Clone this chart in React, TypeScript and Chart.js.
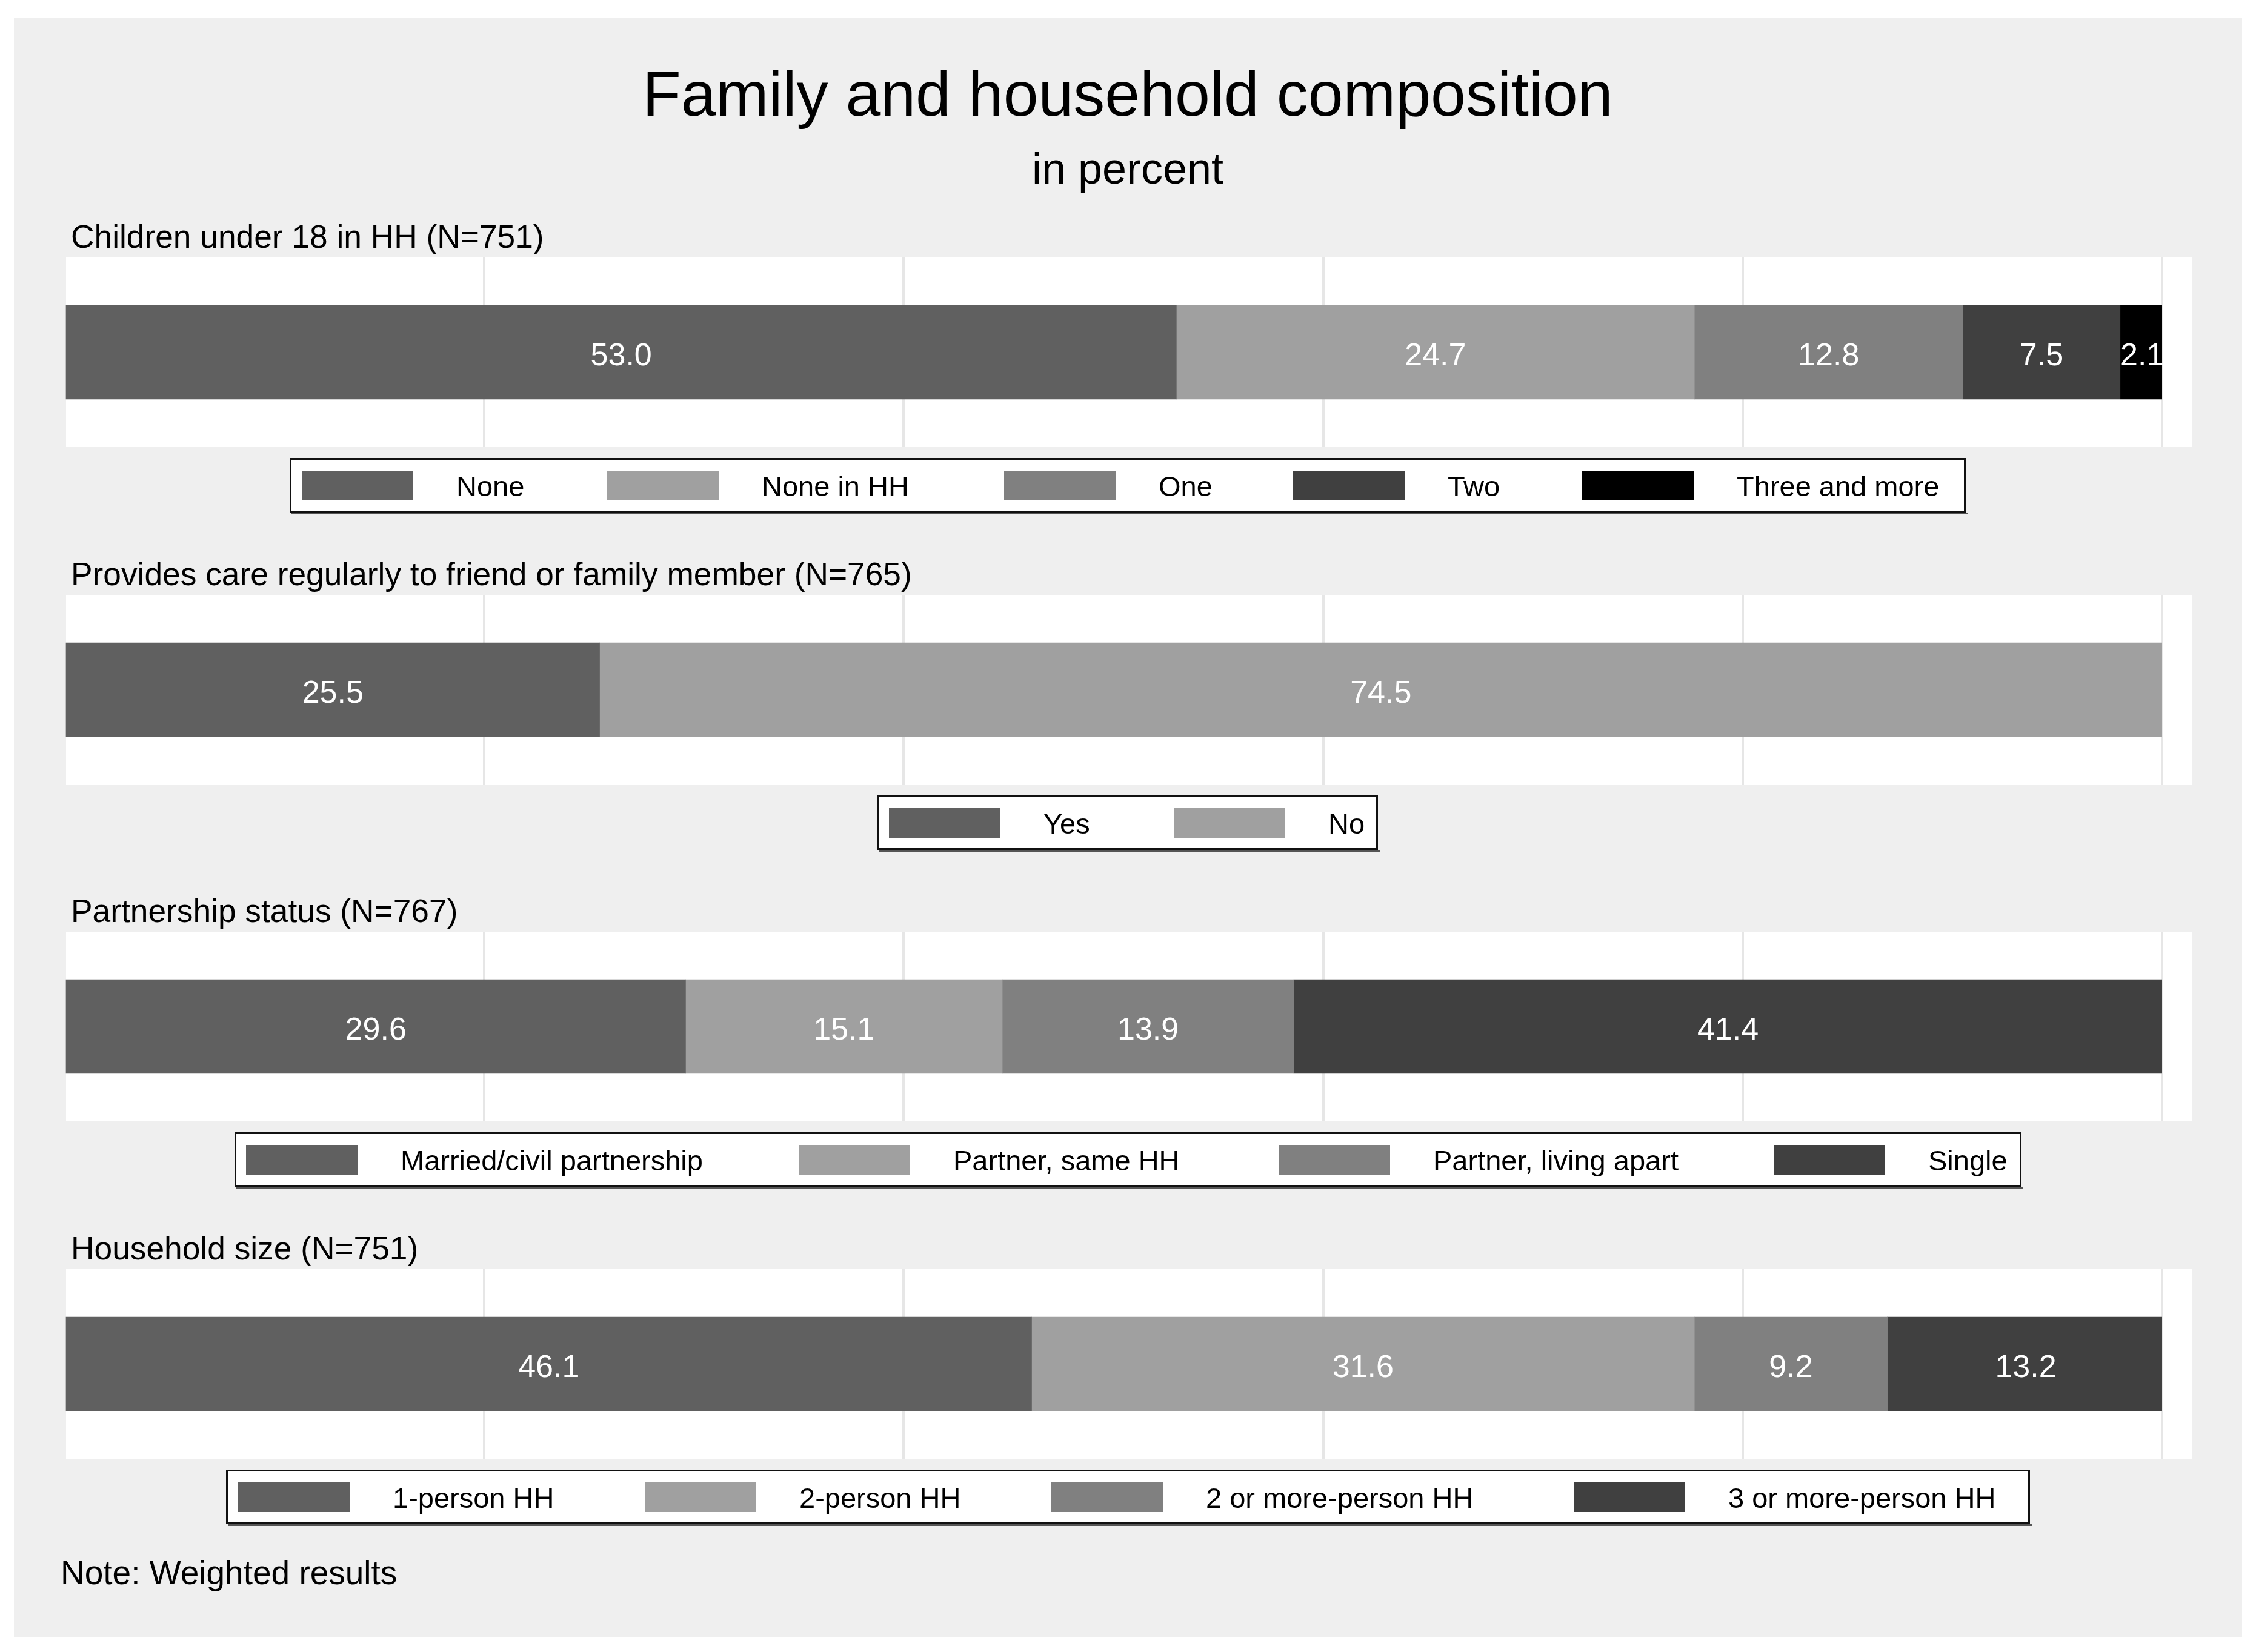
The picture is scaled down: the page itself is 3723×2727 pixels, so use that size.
import React, { useEffect, useRef } from 'react';
import { Chart, registerables } from 'chart.js';

Chart.register(...registerables);

// ---------- data ----------
const chartTitle = 'Family and household composition';
const chartSubtitle = 'in percent';
const noteText = 'Note: Weighted results';

const childrenTitle = 'Children under 18 in HH (N=751)';
const childrenCategories = ['None', 'None in HH', 'One', 'Two', 'Three and more'];
const childrenValues = [53.0, 24.7, 12.8, 7.5, 2.1];

const careTitle = 'Provides care regularly to friend or family member (N=765)';
const careCategories = ['Yes', 'No'];
const careValues = [25.5, 74.5];

const partnerTitle = 'Partnership status (N=767)';
const partnerCategories = ['Married/civil partnership', 'Partner, same HH', 'Partner, living apart', 'Single'];
const partnerValues = [29.6, 15.1, 13.9, 41.4];

const hhTitle = 'Household size (N=751)';
const hhCategories = ['1-person HH', '2-person HH', '2 or more-person HH', '3 or more-person HH'];
const hhValues = [46.1, 31.6, 9.2, 13.2];

const xTickValues = [0, 20, 40, 60, 80, 100];

// ---------- styles / layout ----------
const FONT = "'Liberation Sans', Arial, Helvetica, sans-serif";
const SHADES = ['#606060', '#a0a0a0', '#808080', '#404040', '#000000'];
const BG_GRAY = '#efefef';
const GRID_COLOR = '#e6e6e6';

const W = 3723;
const H = 2727;
const PANEL_STEP = 556.67;
const CANVAS_TOP0 = 330;
const CANVAS_H = 530;
const PLOT_LEFT = 107;
const PLOT_RIGHT = 3568;
const PLOT_TOP = 95;
const PLOT_BOTTOM = 408;
const WHITE_EXTRA_RIGHT = 49;
const BAR_THICK = 155;
const TITLE_X = 117;
const TITLE_BASELINE = 79;
const TITLE_SIZE = 53.3;
const LABEL_SIZE = 52;
const LEGEND_SIZE = 47;
const LEGEND_TOP = 426;
const LEGEND_H = 90;
const SWATCH_W = 184;
const SWATCH_H = 49;
const SWATCH_TOP = 447;
const LEGEND_LABEL_OFFSET = 255;
const LEGEND_BASELINE = 489;

const panels = [
  { title: childrenTitle, categories: childrenCategories, values: childrenValues,
    legend: { left: 478, right: 3244, keys: [498, 1002, 1657, 2134, 2611] } },
  { title: careTitle, categories: careCategories, values: careValues,
    legend: { left: 1448, right: 2274, keys: [1467, 1937] } },
  { title: partnerTitle, categories: partnerCategories, values: partnerValues,
    legend: { left: 387, right: 3336, keys: [406, 1318, 2110, 2927] } },
  { title: hhTitle, categories: hhCategories, values: hhValues,
    legend: { left: 373, right: 3350, keys: [393, 1064, 1735, 2597] } },
];

function makeDecorPlugin(panel: any) {
  return {
    id: 'decor',
    beforeDraw(chart: any) {
      const { ctx, chartArea } = chart;
      ctx.save();
      ctx.fillStyle = '#ffffff';
      ctx.fillRect(chartArea.left + 2, chartArea.top,
        chartArea.right + WHITE_EXTRA_RIGHT - chartArea.left - 2, chartArea.bottom - chartArea.top);
      ctx.restore();
    },
    afterDatasetsDraw(chart: any) {
      const { ctx } = chart;
      ctx.save();
      ctx.fillStyle = '#ffffff';
      ctx.font = `${LABEL_SIZE}px ${FONT}`;
      ctx.textAlign = 'center';
      ctx.textBaseline = 'alphabetic';
      chart.data.datasets.forEach((ds: any, i: number) => {
        const meta = chart.getDatasetMeta(i);
        meta.data.forEach((el: any, j: number) => {
          const p = el.getProps(['x', 'y', 'base'], true);
          const cx = (p.x + p.base) / 2;
          ctx.fillText(Number(ds.data[j]).toFixed(1), cx, p.y + 21);
        });
      });
      ctx.restore();
    },
    afterDraw(chart: any) {
      const { ctx } = chart;
      ctx.save();
      // panel title
      ctx.fillStyle = '#000000';
      ctx.font = `${TITLE_SIZE}px ${FONT}`;
      ctx.textAlign = 'left';
      ctx.textBaseline = 'alphabetic';
      ctx.fillText(panel.title, TITLE_X, TITLE_BASELINE);
      // legend box
      const lg = panel.legend;
      ctx.fillStyle = '#ffffff';
      ctx.fillRect(lg.left, LEGEND_TOP, lg.right - lg.left, LEGEND_H);
      ctx.strokeStyle = '#111111';
      ctx.lineWidth = 3;
      ctx.strokeRect(lg.left + 1.5, LEGEND_TOP + 1.5, lg.right - lg.left - 3, LEGEND_H - 3);
      ctx.fillStyle = '#555555';
      ctx.fillRect(lg.left + 3, LEGEND_TOP + LEGEND_H, lg.right - lg.left, 3);
      ctx.font = `${LEGEND_SIZE}px ${FONT}`;
      chart.data.datasets.forEach((ds: any, i: number) => {
        const x = lg.keys[i];
        ctx.fillStyle = ds.backgroundColor;
        ctx.fillRect(x, SWATCH_TOP, SWATCH_W, SWATCH_H);
        ctx.fillStyle = '#000000';
        ctx.fillText(ds.label, x + LEGEND_LABEL_OFFSET, LEGEND_BASELINE);
      });
      ctx.restore();
    },
  };
}

export default function App() {
  const refs = [useRef<HTMLCanvasElement>(null), useRef<HTMLCanvasElement>(null),
    useRef<HTMLCanvasElement>(null), useRef<HTMLCanvasElement>(null)];

  useEffect(() => {
    const charts: Chart[] = [];
    panels.forEach((panel, k) => {
      const canvas = refs[k].current;
      if (!canvas) return;
      const chart = new Chart(canvas, {
        type: 'bar',
        data: {
          labels: [''],
          datasets: panel.categories.map((c, i) => ({
            label: c,
            data: [panel.values[i]],
            backgroundColor: SHADES[i],
            borderWidth: 0,
            barThickness: BAR_THICK,
          })),
        },
        options: {
          indexAxis: 'y',
          responsive: false,
          maintainAspectRatio: false,
          animation: false,
          devicePixelRatio: 1,
          events: [],
          layout: {
            padding: { left: PLOT_LEFT, right: W - PLOT_RIGHT, top: PLOT_TOP, bottom: CANVAS_H - PLOT_BOTTOM },
          },
          plugins: {
            legend: { display: false },
            title: { display: false },
            tooltip: { enabled: false },
          },
          scales: {
            x: {
              type: 'linear',
              min: 0,
              max: 100,
              stacked: true,
              afterBuildTicks: (axis: any) => {
                axis.ticks = xTickValues.map((v) => ({ value: v }));
              },
              grid: {
                color: (c: any) => (c.tick && c.tick.value === 0 ? 'rgba(0,0,0,0)' : GRID_COLOR),
                lineWidth: 4,
                drawTicks: false,
              },
              border: { display: false },
              ticks: { display: false },
            },
            y: {
              type: 'category',
              stacked: true,
              display: false,
            },
          },
        } as any,
        plugins: [makeDecorPlugin(panel)],
      });
      charts.push(chart);
    });
    return () => charts.forEach((c) => c.destroy());
  }, []);

  return (
    <div style={{ position: 'absolute', left: 0, top: 0, width: W, height: H, background: '#ffffff', fontFamily: FONT, overflow: 'hidden' }}>
      <div style={{ position: 'absolute', left: 23, top: 29, width: 3677, height: 2673, background: BG_GRAY }} />
      <div style={{ position: 'absolute', left: 0, top: 103, width: 3722, textAlign: 'center', fontSize: 104, lineHeight: '104px', color: '#000', whiteSpace: 'nowrap' }}>
        {chartTitle}
      </div>
      <div style={{ position: 'absolute', left: 0, top: 242, width: 3722, textAlign: 'center', fontSize: 72, lineHeight: '72px', color: '#000', whiteSpace: 'nowrap' }}>
        {chartSubtitle}
      </div>
      {panels.map((p, k) => (
        <canvas
          key={k}
          ref={refs[k]}
          width={W}
          height={CANVAS_H}
          style={{ position: 'absolute', left: 0, top: Math.round(CANVAS_TOP0 + k * PANEL_STEP), width: W, height: CANVAS_H }}
        />
      ))}
      <div style={{ position: 'absolute', left: 100, top: 2569, fontSize: 55, lineHeight: '55px', color: '#000', whiteSpace: 'nowrap' }}>
        {noteText}
      </div>
    </div>
  );
}
